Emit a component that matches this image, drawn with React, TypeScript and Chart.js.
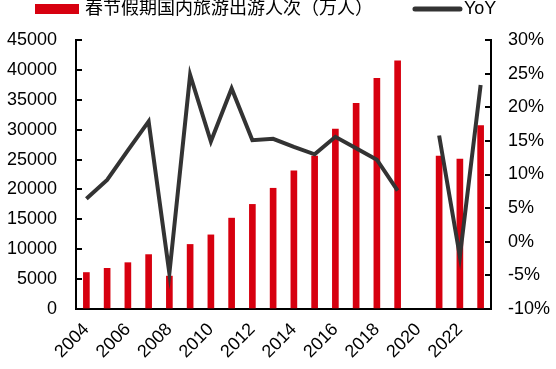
import React, { useEffect, useRef } from "react";
import { Chart, registerables } from "chart.js";

Chart.register(...registerables);

const categories = ["2004", "2005", "2006", "2007", "2008", "2009", "2010", "2011", "2012", "2013", "2014", "2015", "2016", "2017", "2018", "2019", "2020", "2021", "2022", "2023"];
const visitors: (number | null)[] = [6100, 6800, 7750, 9100, 5500, 10800, 12400, 15200, 17500, 20200, 23100, 25600, 30100, 34400, 38600, 41500, null, 25600, 25100, 30700];
const yoy: (number | null)[] = [6.4, 9.2, 13.6, 17.9, -4.7, 24.8, 14.9, 22.8, 15.1, 15.3, 14.1, 13.0, 15.6, 13.9, 12.2, 7.6, null, 15.8, -2.2, 23.3];
const visitorsLabel = "春节假期国内旅游出游人次（万人）";
const yoyLabel = "YoY";

const FONT = "'Liberation Sans', Arial, 'Noto Sans CJK SC', sans-serif";

const legendPlugin = {
  id: "customLegend",
  afterDraw(chart: any) {
    const ctx = chart.ctx;
    ctx.save();
    ctx.font = `18px ${FONT}`;
    ctx.textBaseline = "middle";
    ctx.fillStyle = "#000";
    const cy = 9;
    let x = 35;
    const barDs = chart.data.datasets[1];
    const lineDs = chart.data.datasets[0];
    ctx.fillStyle = barDs.backgroundColor;
    ctx.fillRect(x, 4, 44, 10);
    x += 44 + 6;
    ctx.fillStyle = "#000";
    ctx.fillText(barDs.label, x, cy);
    x += ctx.measureText(barDs.label).width + 42;
    ctx.strokeStyle = lineDs.borderColor;
    ctx.lineWidth = 5;
    ctx.lineCap = "round";
    ctx.beginPath();
    ctx.moveTo(x, cy);
    ctx.lineTo(x + 45, cy);
    ctx.stroke();
    x += 45 + 4;
    ctx.fillStyle = "#000";
    ctx.fillText(lineDs.label, x, cy);
    ctx.restore();
  },
};

export default function App() {
  const ref = useRef<HTMLCanvasElement>(null);
  useEffect(() => {
    document.body.style.margin = "0";
    if (!ref.current) return;
    const chart = new Chart(ref.current, {
      type: "bar",
      data: {
        labels: categories,
        datasets: [
          {
            type: "line",
            label: yoyLabel,
            data: yoy,
            yAxisID: "y1",
            borderColor: "#333333",
            backgroundColor: "#333333",
            borderWidth: 4,
            pointRadius: 0,
            tension: 0,
            spanGaps: false,
            order: 0,
          } as any,
          {
            type: "bar",
            label: visitorsLabel,
            data: visitors,
            yAxisID: "y",
            backgroundColor: "#d7000f",
            barThickness: 6,
            order: 1,
          },
        ],
      },
      options: {
        responsive: false,
        animation: false,
        layout: { padding: { top: 40, left: 0, right: 0, bottom: 0 } },
        plugins: { legend: { display: false }, tooltip: { enabled: false } },
        scales: {
          x: {
            type: "category",
            offset: true,
            grid: { display: false },
            border: { display: true, color: "#000", width: 2 },
            ticks: {
              autoSkip: false,
              maxRotation: 45,
              minRotation: 45,
              padding: 2,
              color: "#000",
              font: { family: FONT, size: 18 },
              callback: (_v: any, i: number) => (i % 2 === 0 ? categories[i] : ""),
            },
            afterFit: (s: any) => {
              s.height = 60;
            },
          },
          y: {
            position: "left",
            min: 0,
            max: 45000,
            grid: { drawOnChartArea: false, drawTicks: true, tickLength: -6, color: "#000", lineWidth: 2 },
            border: { display: true, color: "#000", width: 2 },
            ticks: {
              stepSize: 5000,
              padding: 25,
              color: "#000",
              font: { family: FONT, size: 18 },
              callback: (v: any) => String(v),
            },
            afterFit: (s: any) => {
              s.width = 76;
            },
          },
          y1: {
            position: "right",
            min: -10,
            max: 30,
            grid: { drawOnChartArea: false, drawTicks: true, tickLength: -6, color: "#000", lineWidth: 2 },
            border: { display: true, color: "#000", width: 2 },
            ticks: {
              stepSize: 5,
              padding: 23,
              color: "#000",
              font: { family: FONT, size: 18 },
              callback: (v: any) => `${v}%`,
            },
            afterFit: (s: any) => {
              s.width = 65;
            },
          },
        },
      },
      plugins: [legendPlugin],
    });
    return () => chart.destroy();
  }, []);
  return (
    <div style={{ width: 556, height: 369 }}>
      <canvas ref={ref} width={556} height={369} />
    </div>
  );
}
